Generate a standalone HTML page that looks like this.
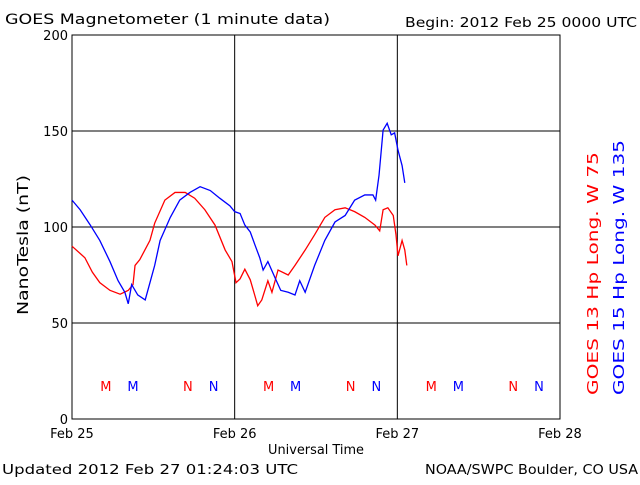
<!DOCTYPE html>
<html><head><meta charset="utf-8"><style>
body{margin:0;background:#fff}
svg text{font-family:"DejaVu Sans","Liberation Sans",sans-serif;font-size:13px}
</style></head><body>
<svg id="c" width="640" height="480">
<rect x="0" y="0" width="640" height="480" fill="#fff"/>
<text x="5" y="24" textLength="325" lengthAdjust="spacingAndGlyphs" style="font-size:14px">GOES Magnetometer (1 minute data)</text>
<text x="405" y="27" textLength="232" lengthAdjust="spacingAndGlyphs">Begin:  2012 Feb 25 0000 UTC</text>
<text x="2" y="474" textLength="296" lengthAdjust="spacingAndGlyphs">Updated 2012 Feb 27 01:24:03 UTC</text>
<text x="425" y="474" textLength="213" lengthAdjust="spacingAndGlyphs">NOAA/SWPC Boulder, CO USA</text>
<text x="268" y="454" textLength="96" lengthAdjust="spacingAndGlyphs">Universal Time</text>
<text transform="translate(28,315) rotate(-90)" textLength="140" lengthAdjust="spacingAndGlyphs" style="font-size:15px">NanoTesla (nT)</text>
<text transform="translate(598,395) rotate(-90)" fill="#ff0000" textLength="243" lengthAdjust="spacingAndGlyphs" style="font-size:15px">GOES 13 Hp  Long. W 75</text>
<text transform="translate(624,395) rotate(-90)" fill="#0000ff" textLength="255" lengthAdjust="spacingAndGlyphs" style="font-size:15px">GOES 15 Hp  Long. W 135</text>
<g id="grid"></g><g id="series"></g><g id="marks"></g>
</svg>
<script>
const days=["Feb 25","Feb 26","Feb 27","Feb 28"];
const yTicks=[0,50,100,150,200];
const redH=[0,1.9,3,4.1,5.6,7.1,8.3,9,9.3,10,11.5,12.2,13.7,15.2,16.7,18.1,19.6,21.1,22.6,23.6,24.2,24.8,25.5,26.3,27,27.4,28,28.9,29.5,30.4,31.9,32.9,34.4,35.8,37.3,38.8,40.3,41.7,43.2,44.7,45.4,45.9,46.6,47.4,47.8,48.1,48.7,49.1,49.4];
const redV=[90,84,76.5,71,67,65,67,70,80,83,93,102,114,118,118,115,109,101,88,82,71,73,78,72.5,64,59,62,72,66,77.6,75,80,88,96,105,109,110,108,105,101,98,109,110,106,96,85,93,88,80];
const blueH=[0,1.2,2.7,4.1,5.6,6.8,7.8,8.3,8.8,9.7,10.8,11.5,12.2,13,14.5,15.9,17.4,18.9,20.4,21.8,23.3,24,24.8,25.5,26.3,27,27.7,28.2,28.9,30.1,30.8,31.9,32.9,33.6,34.4,35.8,37.3,38.8,40.3,41.7,43.2,44.4,44.8,45.3,45.9,46.5,47.1,47.6,48.1,48.7,49.1];
const blueV=[114,109,101,93,82,72,66,60,70,64.6,62,71,80,93,105,114,118,121,119,115,111,108,107,101,97.4,90.6,84,77.6,82,72.4,67,66,64.6,72,66,80,93,102.6,106,114,116.7,116.7,114,127,150.5,154,148,149,140,132,123];
const markH=[5.0,9.0,17.1,20.9];
const markL=["M","M","N","N"];
const markC=["#ff0000","#0000ff","#ff0000","#0000ff"];
const X0=72,X1=560,Y0=419,Y1=35;
const xs=h=>X0+h/72*(X1-X0), ys=v=>Y0-v/200*(Y0-Y1);
const NS="http://www.w3.org/2000/svg";
function mk(t,a,p){const e=document.createElementNS(NS,t);for(const k in a)e.setAttribute(k,a[k]);p.appendChild(e);return e;}
const g=document.getElementById('grid');
const fr=mk('rect',{x:X0,y:Y1,width:X1-X0,height:Y0-Y1,fill:'none',stroke:'#000'},g);


yTicks.forEach(v=>{
 if(v>0&&v<200){const l=mk('line',{x1:X0,x2:X1,y1:ys(v),y2:ys(v),stroke:'#000'},g);
 
 }
 const t=mk('text',{x:X0-4,y:ys(v)+5,'text-anchor':'end'},g);t.textContent=v;
 
 
});
days.forEach((d,i)=>{
 const x=xs(i*24);
 if(i>0&&i<3){const l=mk('line',{x1:x,x2:x,y1:Y1,y2:Y0,stroke:'#000'},g);
 
 }
 const t=mk('text',{x:x,y:438,'text-anchor':'middle'},g);t.textContent=d;
 
 
});
const s=document.getElementById('series');
function line(H,V,c,n){const p=mk('polyline',{points:H.map((h,i)=>xs(h)+','+ys(V[i])).join(' '),fill:'none',stroke:c,'stroke-width':1.3},s);
 
 }
line(redH,redV,'#ff0000','goes13-line');
line(blueH,blueV,'#0000ff','goes15-line');
const m=document.getElementById('marks');
for(let d=0;d<3;d++)markH.forEach((h,i)=>{
 const t=mk('text',{x:xs(h+d*24),y:391,'text-anchor':'middle',fill:markC[i]},m);t.textContent=markL[i];
 
 
});
</script>
</body></html>
